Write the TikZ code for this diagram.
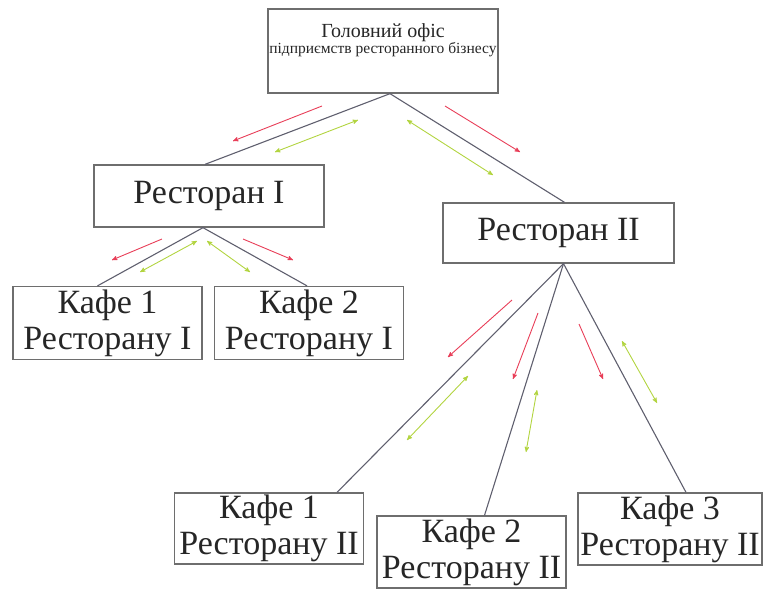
\documentclass[tikz,border=0pt]{standalone}
\usepackage{fontspec}
\setmainfont{Liberation Serif}
\usetikzlibrary{arrows}

\definecolor{boxgray}{RGB}{110,110,110}
\definecolor{linegray}{RGB}{95,95,110}
\definecolor{flowred}{RGB}{232,62,88}
\definecolor{flowgreen}{RGB}{178,212,64}

\tikzset{
  unit/.style={draw=boxgray, line width=1.3pt, inner sep=0pt, align=center},
  link/.style={linegray, line width=1.1pt},
  goodsflow/.style={flowred, line width=0.9pt, ->, >=stealth'},
  infoflow/.style={flowgreen, line width=0.9pt, <->, >=stealth'}
}

\begin{document}
\begin{tikzpicture}[x=1pt, y=-1pt]
\useasboundingbox (0,0) rectangle (763,590);

% head office
\node[unit, minimum width=230, minimum height=84] (office) at (383,51) {};
\node[align=center, inner sep=0pt, text=black!85] (officetxt) at (383,40)
  {\fontsize{20}{15}\selectfont Головний офіс\\
   \fontsize{15.5}{15}\selectfont підприємств ресторанного бізнесу};

% restaurants
\node[unit, minimum width=230, minimum height=62, font=\fontsize{34}{36}\selectfont, text=black!85] (rest1) at (209,196) {Ресторан I};
\node[unit, minimum width=231, minimum height=60, font=\fontsize{34}{36}\selectfont, text=black!85] (rest2) at (558.5,233) {Ресторан II};

% cafes
\tikzset{cafe/.style={unit, minimum width=189, minimum height=73, font=\fontsize{34}{36}\selectfont, text=black!85}}
\node[cafe] (cafe11) at (107.5,323) {Кафе 1\\Ресторану I};
\node[cafe] (cafe12) at (309,323) {Кафе 2\\Ресторану I};
\node[cafe, minimum height=71] (cafe21) at (269,528.5) {Кафе 1\\Ресторану II};
\node[cafe, minimum height=72] (cafe22) at (471.5,552) {Кафе 2\\Ресторану II};
\node[cafe, minimum width=184, minimum height=72] (cafe23) at (670,529) {Кафе 3\\Ресторану II};

% links
\draw[link] ([xshift=7]office.south) -- ([xshift=-4]rest1.north);
\draw[link] ([xshift=7]office.south) -- ([xshift=6]rest2.north);
\draw[link] ([xshift=-6]rest1.south) -- ([xshift=-10]cafe11.north);
\draw[link] ([xshift=-6]rest1.south) -- ([xshift=-2]cafe12.north);
\draw[link] ([xshift=5]rest2.south) -- ([xshift=68]cafe21.north);
\draw[link] ([xshift=5]rest2.south) -- ([xshift=13]cafe22.north);
\draw[link] ([xshift=5]rest2.south) -- ([xshift=16]cafe23.north);

% flows
\foreach \xa/\ya/\xb/\yb in {322/106/233/141, 445/106/520/152, 162/239/112/260, 243/239/293/260,
                             512/300/448/357, 538/313/513/379, 579/324/603/379}
  \draw[goodsflow] (\xa,\ya) -- (\xb,\yb);
\foreach \xa/\ya/\xb/\yb in {358/120/275/152, 407/120/493/175, 197/241/140/272, 207/241/250/272,
                             468/376/407/440, 537/390/526/452, 622/341/657/403}
  \draw[infoflow] (\xa,\ya) -- (\xb,\yb);
\end{tikzpicture}
\end{document}
